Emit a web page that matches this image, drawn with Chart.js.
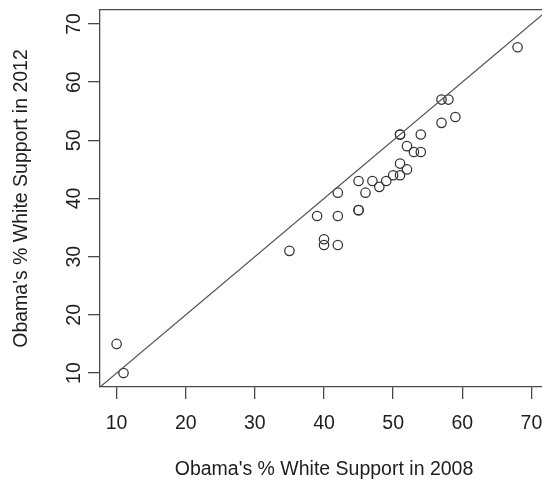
<!DOCTYPE html>
<html>
<head>
<meta charset="utf-8">
<script src="https://cdn.jsdelivr.net/npm/chart.js@4.4.1/dist/chart.umd.min.js"></script>
<style>
 html, body { margin: 0; padding: 0; background: #fff; overflow: hidden; }
 #wrap { width: 542px; height: 481px; overflow: hidden; }
 canvas { display: block; }
</style>
</head>
<body>
<div id="wrap"><canvas id="chart" width="560" height="481"></canvas></div>
<script>
// Obama's share of the white vote, by state: 2008 vs 2012
const support2008 = [10, 11, 35, 39, 40, 40, 42, 42, 42, 45, 45, 45, 46, 47, 48, 49, 50, 51, 51, 51, 51, 52, 52, 53, 54, 54, 57, 57, 58, 59, 68];
const support2012 = [15, 10, 31, 37, 33, 32, 41, 37, 32, 38, 38, 43, 41, 43, 42, 43, 44, 44, 46, 51, 51, 45, 49, 48, 48, 51, 57, 53, 57, 54, 66];
const tickValues = [10, 20, 30, 40, 50, 60, 70];
const refLine = [0, 80]; // y = x
const axisMin = 7.6;
const axisMax = 72.4;

const ink = '#4a4a4a';
const textColor = '#1e1e1e';
const font = { family: '"Liberation Sans", Arial, Helvetica, sans-serif', size: 19.5 };

const setTicks = s => { s.ticks = tickValues.map(v => ({ value: v })); };
const noPad = s => { s.paddingTop = 0; s.paddingBottom = 0; s.paddingLeft = 0; s.paddingRight = 0; };

const ctx = document.getElementById('chart').getContext('2d');
new Chart(ctx, {
 type: 'scatter',
 data: {
 datasets: [
 {
 type: 'line',
 data: refLine.map(v => ({ x: v, y: v })),
 borderColor: '#555',
 borderWidth: 1.3,
 pointRadius: 0,
 fill: false,
 },
 {
 data: support2008.map((x, i) => ({ x, y: support2012[i] })),
 pointStyle: 'circle',
 pointRadius: 4.7,
 pointBorderWidth: 1.25,
 pointBorderColor: '#333',
 pointBackgroundColor: 'rgba(0,0,0,0)',
 },
 ],
 },
 options: {
 responsive: false,
 devicePixelRatio: 1,
 animation: false,
 layout: { padding: { top: 10, right: 12, bottom: 0, left: 0 } },
 plugins: {
 legend: { display: false },
 tooltip: { enabled: false },
 },
 scales: {
 x: {
 type: 'linear',
 position: 'bottom',
 min: axisMin,
 max: axisMax,
 afterBuildTicks: setTicks,
 afterFit: s => { s.height = 94; noPad(s); },
 grid: { display: true, drawOnChartArea: false, drawTicks: true, tickLength: 12, color: ink, lineWidth: 1.3 },
 border: { display: true, color: ink, width: 1.3 },
 ticks: { color: textColor, font, padding: 13, autoSkip: false, maxRotation: 0 },
 title: { display: true, text: "Obama's % White Support in 2008", color: textColor, font, padding: { top: 0, bottom: 0 } },
 },
 xTop: {
 type: 'linear',
 position: 'top',
 min: axisMin,
 max: axisMax,
 afterFit: s => { s.height = 0; noPad(s); },
 grid: { display: false },
 ticks: { display: false },
 border: { display: true, color: ink, width: 1.3 },
 },
 y: {
 type: 'linear',
 position: 'left',
 min: axisMin,
 max: axisMax,
 afterBuildTicks: setTicks,
 afterFit: s => { s.width = 100; noPad(s); },
 grid: { display: true, drawOnChartArea: false, drawTicks: true, tickLength: 12, color: ink, lineWidth: 1.3 },
 border: { display: true, color: ink, width: 1.3 },
 ticks: { color: textColor, font, padding: 2.5, autoSkip: false, minRotation: 90, maxRotation: 90, crossAlign: 'center' },
 title: { display: true, text: "Obama's % White Support in 2012", color: textColor, font, padding: { top: 10, bottom: 0 } },
 },
 },
 },
});
</script>
</body>
</html>
